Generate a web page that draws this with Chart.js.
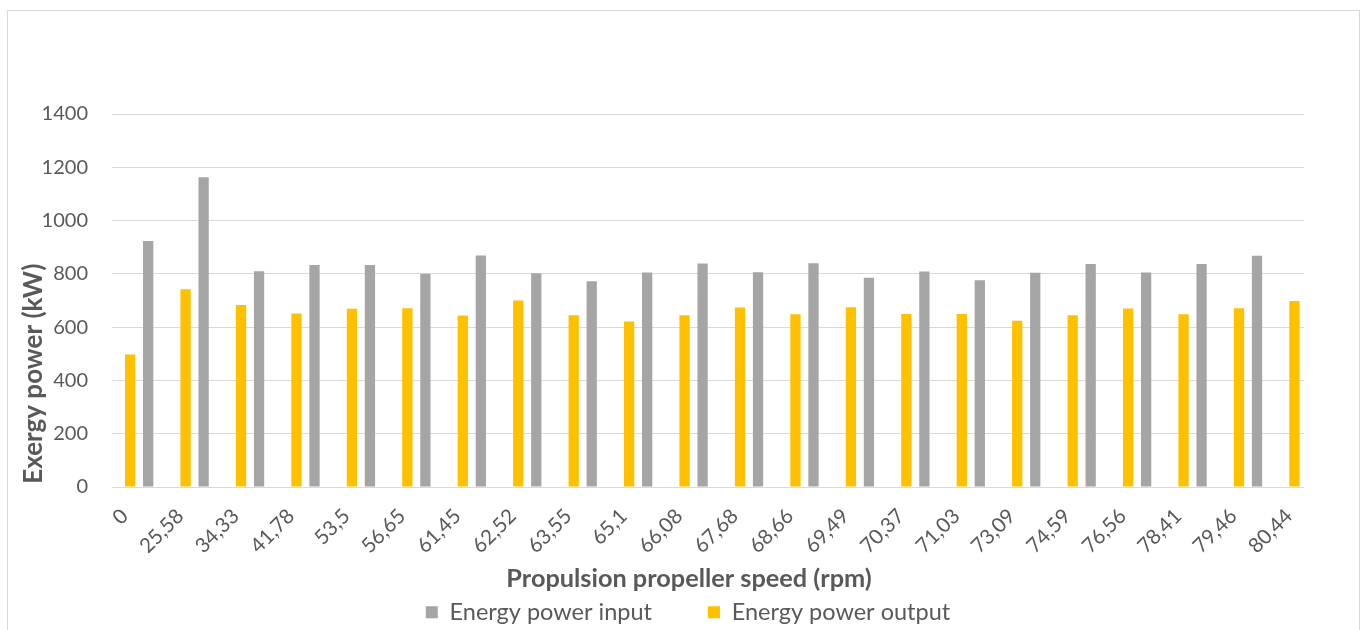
<!DOCTYPE html>
<html>
<head>
<meta charset="utf-8">
<script src="https://cdn.jsdelivr.net/npm/chart.js@4.4.1/dist/chart.umd.min.js"></script>
<style>
html, body { margin: 0; padding: 0; background: #ffffff; }
#wrap { position: relative; width: 1365px; height: 630px; overflow: hidden; }
#frame { position: absolute; left: 7px; top: 10px; width: 1353px; height: 660px; border: 1px solid #d9d9d9; box-sizing: border-box; }
#c { position: absolute; left: 0; top: 0; }
</style>
</head>
<body>
<div id="wrap">
  <div id="frame"></div>
  <canvas id="c" width="1365" height="630"></canvas>
</div>
<script>
// ---- data ----
const speedLabels = ['0', '25,58', '34,33', '41,78', '53,5', '56,65', '61,45', '62,52', '63,55', '65,1', '66,08',
  '67,68', '68,66', '69,49', '70,37', '71,03', '73,09', '74,59', '76,56', '78,41', '79,46', '80,44'];
const powerInput = [923, 1163, 810, 833, 833, 800, 869, 802, 772, 805, 839, 806, 840, 785, 809, 776, 804, 837, 805, 837, 868];
const powerOutput = [497, 742, 683, 651, 669, 671, 644, 700, 645, 621, 645, 674, 648, 675, 649, 649, 624, 645, 670, 648, 671, 698];
const yTickValues = [0, 200, 400, 600, 800, 1000, 1200, 1400];
const seriesNames = ['Energy power input', 'Energy power output'];
const xTitle = 'Propulsion propeller speed (rpm)';
const yTitle = 'Exergy power (kW)';

const FONT = 'Lato, "Open Sans", "DejaVu Sans", sans-serif';
const TXT = '#595959';

const toPoints = (vals) => vals.map((v, i) => ({ x: i, y: v }));

// shifts the centred legend block to the right, as in the reference
const legendShift = {
  id: 'legendShift',
  afterLayout(chart) {
    if (chart.legend) { chart.legend.left += 32; chart.legend.right += 32; }
  }
};

new Chart(document.getElementById('c'), {
  type: 'bar',
  data: {
    datasets: [
      { label: seriesNames[1], data: toPoints(powerOutput), backgroundColor: '#FFC000', borderWidth: 0 },
      { label: seriesNames[0], data: toPoints(powerInput), backgroundColor: '#A5A5A5', borderWidth: 0 }
    ]
  },
  plugins: [legendShift],
  options: {
    responsive: false,
    animation: false,
    categoryPercentage: 0.65,
    barPercentage: 0.57,
    layout: { padding: { left: 8, top: 114, right: 61, bottom: -4 } },
    plugins: {
      tooltip: { enabled: false },
      legend: {
        position: 'bottom',
        reverse: true,
        labels: {
          font: { family: FONT, size: 23.5 },
          color: TXT,
          boxWidth: 12,
          boxHeight: 12,
          padding: 6,
          generateLabels: (chart) => {
            const items = Chart.defaults.plugins.legend.labels.generateLabels(chart);
            items.forEach(it => { it.lineWidth = 0; if (it.text === seriesNames[0]) it.text = it.text + '\u2003\u2003\u2002\u2009'; });
            return items;
          }
        }
      }
    },
    scales: {
      x: {
        type: 'linear',
        bounds: 'data',
        min: -0.49,
        max: 21.01,
        offset: false,
        grid: { display: false, drawTicks: false },
        border: { display: false },
        afterBuildTicks: (scale) => {
          scale.ticks = speedLabels.map((_, i) => ({ value: i - 0.26 }));
        },
        afterFit: (scale) => { scale.height = 107.5; },
        ticks: {
          autoSkip: false,
          minRotation: 45,
          maxRotation: 45,
          padding: 17,
          color: TXT,
          font: { family: FONT, size: 20.5 },
          callback: (value, index) => speedLabels[index]
        },
        title: {
          display: true,
          text: xTitle + '\u2003\u2003',
          color: TXT,
          font: { family: FONT, size: 25.3, weight: 'bold' },
          padding: { top: 0, bottom: 0 }
        }
      },
      y: {
        min: 0,
        max: 1400,
        grid: { color: '#d9d9d9', lineWidth: 1, drawTicks: false },
        border: { display: false },
        afterBuildTicks: (scale) => {
          scale.ticks = yTickValues.map(v => ({ value: v }));
        },
        afterFit: (scale) => { scale.width = 104; },
        ticks: {
          padding: 24,
          color: TXT,
          font: { family: FONT, size: 20 },
          callback: (v) => String(v)
        },
        title: {
          display: true,
          text: '\u2009' + yTitle,
          align: 'start',
          color: TXT,
          font: { family: FONT, size: 26, weight: 'bold' },
          padding: { top: 10, bottom: 0 }
        }
      }
    }
  }
});
</script>
</body>
</html>
